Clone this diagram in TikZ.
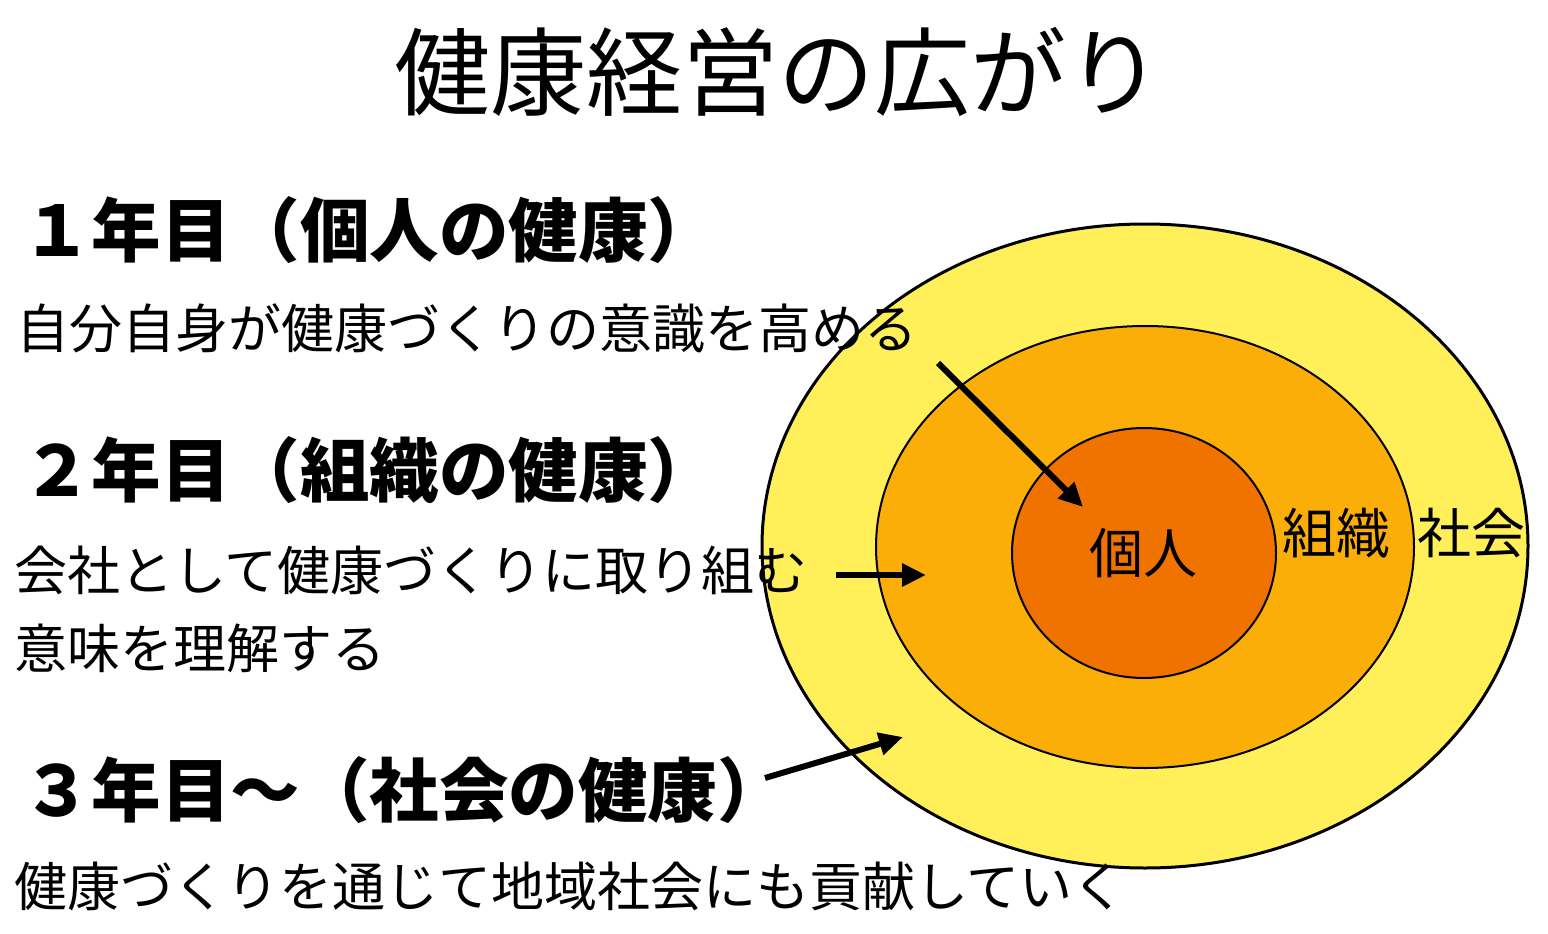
\documentclass[tikz,border=0pt]{standalone}
\usepackage{fontspec}
\newfontfamily\cjk{Noto Sans CJK JP}
\usetikzlibrary{shapes.geometric,arrows.meta}
\definecolor{ringY}{RGB}{255,240,90}
\definecolor{ringO}{RGB}{252,174,8}
\definecolor{ringR}{RGB}{240,115,0}
\tikzset{
  ring/.style={ellipse, draw=black, inner sep=0pt},
  heading/.style={anchor=west, inner sep=0pt, font=\cjk\bfseries\fontsize{69.5}{72}\selectfont},
  body/.style={anchor=west, inner sep=0pt, font=\cjk\fontsize{53}{56}\selectfont},
  label/.style={inner sep=0pt, font=\cjk\fontsize{54}{58}\selectfont},
  pointer/.style={line width=6pt, -{Triangle[length=24pt,width=22pt]}}
}
\begin{document}
\begin{tikzpicture}[x=1pt,y=-1pt]
\useasboundingbox[fill=white] (0,0) rectangle (1548,934);
% rings
\node[ring, fill=ringY, line width=3pt, minimum width=766pt, minimum height=644pt] (society) at (1145,546) {};
\node[ring, fill=ringO, line width=2pt, minimum width=538pt, minimum height=442pt] (org) at (1145,547) {};
\node[ring, fill=ringR, line width=2pt, minimum width=264pt, minimum height=250pt] (indiv) at (1144,553) {};
\node[label] (lindiv) at (1143,553) {個人};
\node[label] (lorg) at (1336,533) {組織};
\node[label] (lsoc) at (1471,533) {社会};
% title
\node[inner sep=0pt, font=\cjk\fontsize{96}{100}\selectfont] (title) at (778,72) {健康経営の広がり};
% texts
\node[heading] (h1) at (22,230) {１年目（個人の健康）};
\node[body] (b1) at (16,328) {自分自身が健康づくりの意識を高める};
\node[heading] (h2) at (22,470) {２年目（組織の健康）};
\node[body] (b2a) at (14,570) {会社として健康づくりに取り組む};
\node[body] (b2b) at (14,648) {意味を理解する};
\node[heading] (h3) at (22,790) {３年目〜（社会の健康）};
\node[body] (b3) at (14,886) {健康づくりを通じて地域社会にも貢献していく};
% arrows
\coordinate (a1s) at (938,363);
\coordinate (a1e) at (1083,507);
\coordinate (a2s) at (836,575);
\coordinate (a2e) at (926,575);
\coordinate (a3s) at (765,778);
\coordinate (a3e) at (903,737);
\draw[pointer] (a1s) -- (a1e);
\draw[pointer] (a2s) -- (a2e);
\draw[pointer] (a3s) -- (a3e);
\end{tikzpicture}
\end{document}
